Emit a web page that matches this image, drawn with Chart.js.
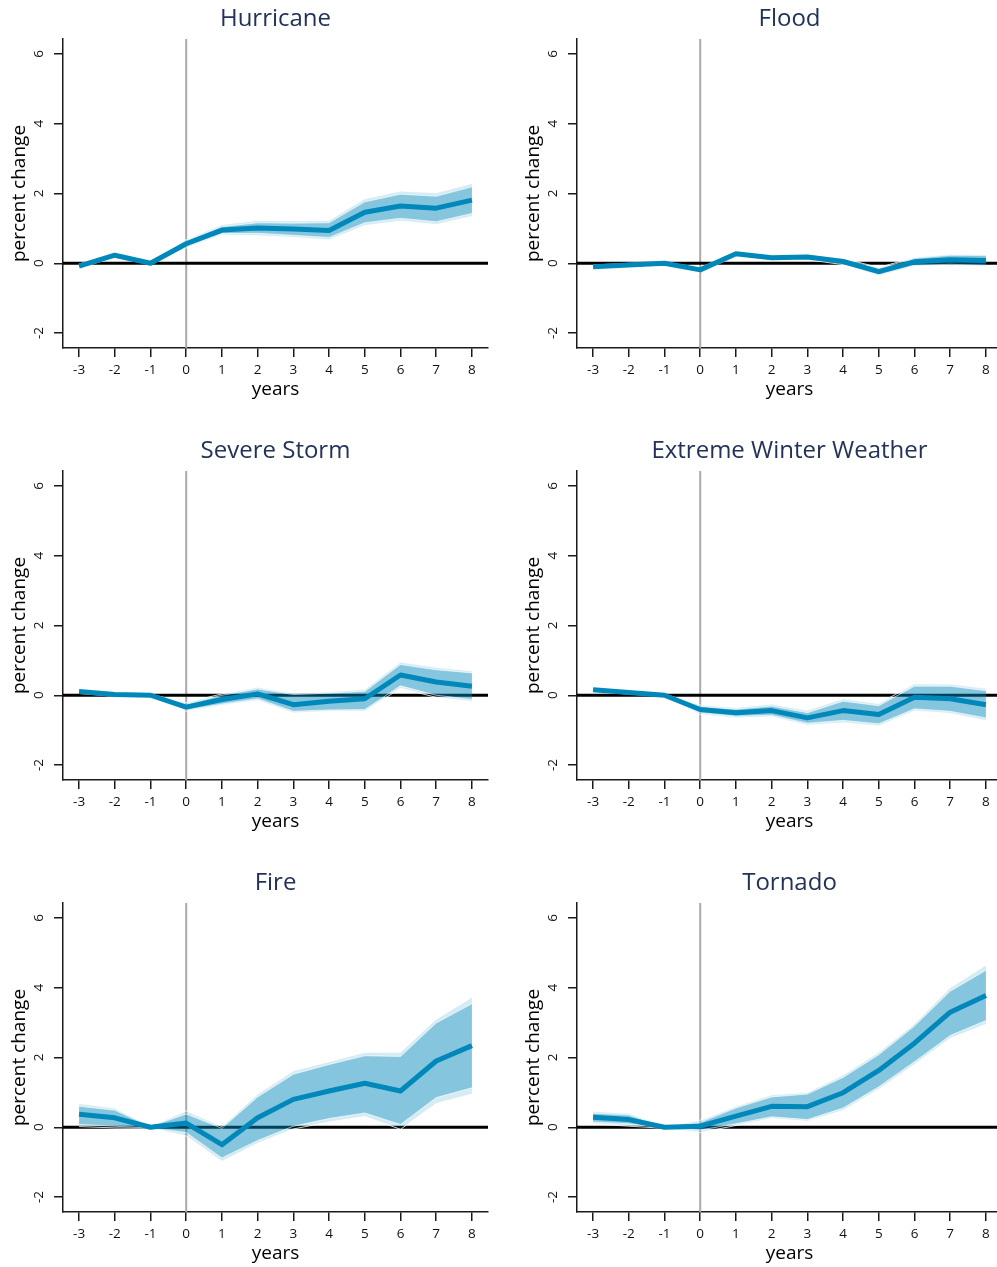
<!DOCTYPE html>
<html>
<head>
<meta charset="utf-8">
<script src="https://cdn.jsdelivr.net/npm/chart.js@4.4.1/dist/chart.umd.min.js"></script>
<style>
  html, body { margin: 0; padding: 0; background: #fff; }
  body { width: 997px; height: 1267px; overflow: hidden; position: relative; }
  .panel { position: absolute; width: 514px; height: 432px; }
</style>
</head>
<body>
<div class="panel" style="left:0;top:0"><canvas id="c0"></canvas></div>
<div class="panel" style="left:514px;top:0"><canvas id="c1"></canvas></div>
<div class="panel" style="left:0;top:432px"><canvas id="c2"></canvas></div>
<div class="panel" style="left:514px;top:432px"><canvas id="c3"></canvas></div>
<div class="panel" style="left:0;top:864px"><canvas id="c4"></canvas></div>
<div class="panel" style="left:514px;top:864px"><canvas id="c5"></canvas></div>
<script>
// Event-time axis and ticks
const years = [-3, -2, -1, 0, 1, 2, 3, 4, 5, 6, 7, 8];
const yTicks = [-2, 0, 2, 4, 6];

// Panel titles
const titles = ["Hurricane", "Flood", "Severe Storm", "Extreme Winter Weather", "Fire", "Tornado"];

// Point estimates (percent change)
const hurricaneEst = [-0.08, 0.23, 0, 0.56, 0.95, 1.01, 0.98, 0.94, 1.46, 1.64, 1.58, 1.81];
const floodEst     = [-0.10, -0.05, 0, -0.19, 0.27, 0.16, 0.18, 0.05, -0.24, 0.04, 0.10, 0.08];
const stormEst     = [0.11, 0.02, 0, -0.34, -0.12, 0.04, -0.27, -0.17, -0.10, 0.58, 0.38, 0.26];
const winterEst    = [0.16, 0.08, 0, -0.41, -0.50, -0.44, -0.65, -0.44, -0.55, -0.06, -0.10, -0.27];
const fireEst      = [0.37, 0.27, 0, 0.12, -0.50, 0.27, 0.80, 1.04, 1.26, 1.04, 1.90, 2.34];
const tornadoEst   = [0.29, 0.22, 0, 0.03, 0.32, 0.60, 0.59, 0.99, 1.63, 2.41, 3.30, 3.78];

// Inner (darker) band
const hurricaneInLo = [-0.12, 0.19, -0.02, 0.48, 0.85, 0.86, 0.80, 0.74, 1.16, 1.29, 1.19, 1.43];
const hurricaneInHi = [-0.04, 0.27, 0.02, 0.64, 1.05, 1.16, 1.15, 1.16, 1.76, 1.98, 1.92, 2.19];
const floodInLo = [-0.13, -0.08, -0.02, -0.23, 0.22, 0.11, 0.12, -0.02, -0.33, -0.06, -0.03, -0.06];
const floodInHi = [-0.07, -0.02, 0.02, -0.15, 0.32, 0.21, 0.24, 0.12, -0.15, 0.14, 0.23, 0.22];
const stormInLo = [0.07, -0.01, -0.02, -0.42, -0.25, -0.10, -0.46, -0.42, -0.41, 0.27, 0.00, -0.12];
const stormInHi = [0.15, 0.05, 0.02, -0.26, 0.00, 0.18, 0.02, 0.06, 0.11, 0.88, 0.73, 0.64];
const winterInLo = [0.13, 0.05, -0.02, -0.50, -0.60, -0.57, -0.80, -0.72, -0.82, -0.39, -0.46, -0.65];
const winterInHi = [0.19, 0.11, 0.02, -0.33, -0.40, -0.31, -0.50, -0.17, -0.30, 0.26, 0.26, 0.13];
const fireInLo = [0.08, 0.03, -0.02, -0.15, -0.88, -0.38, 0.03, 0.25, 0.41, 0.08, 0.85, 1.13];
const fireInHi = [0.60, 0.49, 0.02, 0.38, -0.03, 0.87, 1.52, 1.80, 2.05, 2.03, 2.99, 3.54];
const tornadoInLo = [0.15, 0.10, -0.02, -0.08, 0.10, 0.30, 0.22, 0.55, 1.16, 1.88, 2.63, 3.06];
const tornadoInHi = [0.40, 0.35, 0.02, 0.14, 0.55, 0.87, 0.95, 1.43, 2.08, 2.90, 3.90, 4.50];

// Outer (lighter) band
const hurricaneOutLo = [-0.14, 0.17, -0.03, 0.44, 0.81, 0.79, 0.74, 0.67, 1.08, 1.21, 1.11, 1.34];
const hurricaneOutHi = [-0.02, 0.29, 0.03, 0.68, 1.11, 1.23, 1.22, 1.23, 1.85, 2.07, 2.02, 2.29];
const floodOutLo = [-0.15, -0.10, -0.03, -0.25, 0.20, 0.09, 0.10, -0.04, -0.36, -0.09, -0.06, -0.09];
const floodOutHi = [-0.05, 0.00, 0.03, -0.13, 0.34, 0.23, 0.26, 0.14, -0.12, 0.17, 0.26, 0.25];
const stormOutLo = [0.05, -0.03, -0.03, -0.46, -0.29, -0.15, -0.51, -0.46, -0.46, 0.20, -0.06, -0.18];
const stormOutHi = [0.17, 0.07, 0.03, -0.21, 0.04, 0.23, 0.06, 0.10, 0.17, 0.95, 0.80, 0.70];
const winterOutLo = [0.11, 0.03, -0.03, -0.55, -0.65, -0.62, -0.86, -0.79, -0.88, -0.45, -0.52, -0.73];
const winterOutHi = [0.21, 0.13, 0.03, -0.28, -0.35, -0.25, -0.43, -0.10, -0.24, 0.33, 0.32, 0.20];
const fireOutLo = [0.02, -0.02, -0.03, -0.25, -0.98, -0.46, -0.05, 0.15, 0.31, -0.06, 0.68, 0.95];
const fireOutHi = [0.68, 0.55, 0.03, 0.47, 0.02, 0.95, 1.62, 1.88, 2.15, 2.15, 3.10, 3.73];
const tornadoOutLo = [0.10, 0.03, -0.03, -0.15, 0.05, 0.25, 0.17, 0.48, 1.09, 1.80, 2.55, 2.95];
const tornadoOutHi = [0.46, 0.40, 0.03, 0.20, 0.60, 0.93, 1.00, 1.50, 2.15, 2.97, 4.00, 4.65];

const panels = [
  [hurricaneEst, hurricaneInLo, hurricaneInHi, hurricaneOutLo, hurricaneOutHi],
  [floodEst, floodInLo, floodInHi, floodOutLo, floodOutHi],
  [stormEst, stormInLo, stormInHi, stormOutLo, stormOutHi],
  [winterEst, winterInLo, winterInHi, winterOutLo, winterOutHi],
  [fireEst, fireInLo, fireInHi, fireOutLo, fireOutHi],
  [tornadoEst, tornadoInLo, tornadoInHi, tornadoOutLo, tornadoOutHi]
];

const FONT = "'Open Sans', 'Noto Sans', sans-serif";
const LINE = "#0088bb";
const INNER = "rgba(0, 137, 187, 0.38)";
const OUTER = "rgba(0, 137, 187, 0.16)";
const AXIS = "#1a1a1a";

function pts(arr) {
  return years.map((x, i) => ({ x: x, y: arr[i] }));
}

// zero line + event line under the bands
const refLines = {
  id: "refLines",
  beforeDatasetsDraw(chart) {
    const { ctx, chartArea, scales } = chart;
    const y0 = scales.y.getPixelForValue(0);
    const x0 = scales.x.getPixelForValue(0);
    ctx.save();
    ctx.strokeStyle = "#a9a9a9";
    ctx.lineWidth = 2;
    ctx.beginPath();
    ctx.moveTo(x0, chartArea.top);
    ctx.lineTo(x0, chartArea.bottom);
    ctx.stroke();
    ctx.strokeStyle = "#000";
    ctx.lineWidth = 3;
    ctx.beginPath();
    ctx.moveTo(chartArea.left, y0);
    ctx.lineTo(chartArea.right, y0);
    ctx.stroke();
    ctx.restore();
  }
};

// rotated y tick labels (read bottom to top)
const yLabels = {
  id: "yLabels",
  afterDraw(chart) {
    const { ctx, scales } = chart;
    const sc = scales.y;
    ctx.save();
    ctx.fillStyle = "#111";
    ctx.font = "13.5px " + FONT;
    ctx.textAlign = "center";
    ctx.textBaseline = "middle";
    sc.ticks.forEach(t => {
      const py = sc.getPixelForValue(t.value);
      ctx.save();
      ctx.translate(39, py);
      ctx.rotate(-Math.PI / 2);
      ctx.fillText(String(t.value), 0, 0);
      ctx.restore();
    });
    ctx.restore();
  }
};

panels.forEach((p, k) => {
  const [est, inLo, inHi, outLo, outHi] = p;
  new Chart(document.getElementById("c" + k), {
    type: "line",
    data: {
      datasets: [
        { data: pts(est), borderColor: LINE, borderWidth: 5, borderJoinStyle: "round", fill: false },
        { data: pts(inHi), borderColor: "rgba(255,255,255,0.6)", borderWidth: 1, fill: false },
        { data: pts(inLo), borderColor: "rgba(255,255,255,0.6)", borderWidth: 1, backgroundColor: INNER, fill: "-1" },
        { data: pts(outHi), borderColor: "rgba(255,255,255,0.8)", borderWidth: 1, fill: false },
        { data: pts(outLo), borderColor: "rgba(255,255,255,0.8)", borderWidth: 1, backgroundColor: OUTER, fill: "-1" }
      ]
    },
    options: {
      responsive: true,
      maintainAspectRatio: false,
      animation: false,
      elements: { point: { radius: 0 }, line: { tension: 0 } },
      layout: { padding: { left: 0, right: 26, top: 0, bottom: 0 } },
      plugins: {
        legend: { display: false },
        tooltip: { enabled: false },
        title: {
          display: true,
          text: titles[k],
          fullSize: false,
          color: "#24325a",
          font: { family: FONT, size: 24, weight: "normal", lineHeight: "28px" },
          padding: { top: 5, bottom: 6 }
        }
      },
      scales: {
        x: {
          type: "linear",
          min: -3.45,
          max: 8.45,
          afterBuildTicks: s => { s.ticks = years.map(v => ({ value: v })); },
          afterFit: s => { s.height = 84; },
          border: { display: true, color: AXIS, width: 1.5 },
          grid: { drawOnChartArea: false, drawTicks: true, tickLength: 9, color: AXIS, lineWidth: 1.5 },
          ticks: { autoSkip: false, maxRotation: 0, padding: 5, color: "#111", font: { family: FONT, size: 13.5 } },
          title: { display: true, text: "years", color: "#000", font: { family: FONT, size: 19 }, padding: { top: 0, bottom: 31 } }
        },
        y: {
          type: "linear",
          min: -2.43,
          max: 6.43,
          afterBuildTicks: s => { s.ticks = yTicks.map(v => ({ value: v })); },
          afterFit: s => { s.width = 63; },
          border: { display: true, color: AXIS, width: 1.5 },
          grid: { drawOnChartArea: false, drawTicks: true, tickLength: 9, color: AXIS, lineWidth: 1.5 },
          ticks: { display: false },
          title: { display: true, text: "percent change", color: "#000", font: { family: FONT, size: 19 }, padding: { top: 8, bottom: 0 } }
        }
      }
    },
    plugins: [refLines, yLabels]
  });
});
</script>
</body>
</html>
